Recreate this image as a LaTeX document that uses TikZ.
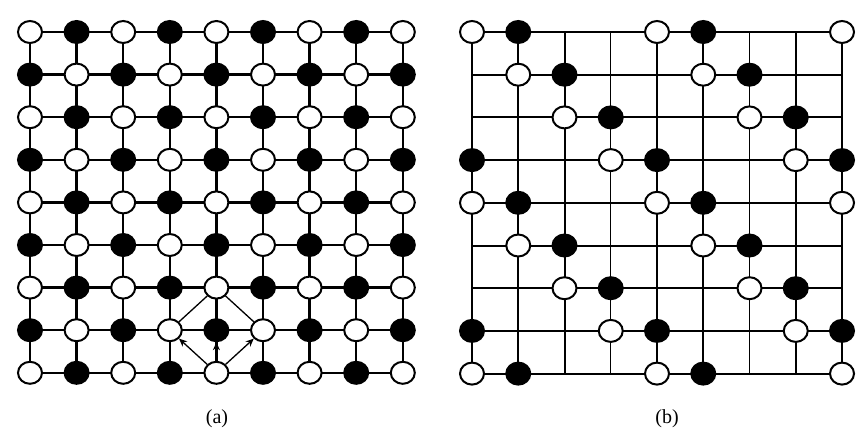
\documentclass[tikz,border=0pt]{standalone}
\usepackage{fontspec}
\setmainfont{Liberation Serif}
\usetikzlibrary{arrows.meta,positioning,calc,shapes.geometric}
\pgfdeclarelayer{bg}
\pgfsetlayers{bg,main}

\begin{document}
\begin{tikzpicture}[
  x=1pt, y=-1pt,
  site/.style={ellipse, draw=black, line width=2pt, minimum width=24pt, minimum height=22pt, inner sep=0pt},
  wsite/.style={site, fill=white},
  bsite/.style={site, fill=black},
  bond/.style={line width=2.4pt},
  heavy/.style={line width=2pt},
  light/.style={line width=1pt},
  link/.style={line width=1.3pt},
  hop/.style={-{Stealth[length=8pt,width=7pt]}, line width=1.3pt},
  caption/.style={font=\fontsize{20}{22}\selectfont}
]
\useasboundingbox (0,0) rectangle (858,436);

% (a) checkerboard lattice
\foreach \r in {0,...,8} {
  \foreach \c in {0,...,8} {
    \pgfmathtruncatemacro\odd{mod(\r+\c,2)}
    \ifnum\odd=0
      \node[wsite] (a-\r-\c) at ({30+46.6*\c},{32+42.6*\r}) {};
    \else
      \node[bsite] (a-\r-\c) at ({30+46.6*\c},{32+42.6*\r}) {};
    \fi
  }
}
\begin{pgfonlayer}{bg}
  \foreach \i in {0,...,8} {
    \draw[bond] (a-\i-0.center) -- (a-\i-8.center);
    \draw[bond] (a-0-\i.center) -- (a-8-\i.center);
  }
\end{pgfonlayer}

% hopping diamond
\draw[link] (a-6-4) -- (a-7-3);
\draw[link] (a-6-4) -- (a-7-5);
\draw[hop] (a-8-4) -- (a-7-3);
\draw[hop] (a-8-4) -- (a-7-5);
\draw[hop] (a-8-4) -- (a-7-4);

% (b) diluted lattice
\foreach \r in {0,...,8} {
  \foreach \c in {0,...,8} {
    \coordinate (g-\r-\c) at ({472+46.25*\c},{32+42.7*\r});
  }
}
\foreach \i in {0,...,8} {
  \draw[heavy] (g-\i-0) -- (g-\i-8);
}
\foreach \i in {0,1,2,4,5,7,8} {
  \draw[heavy] (g-0-\i) -- (g-8-\i);
}
\foreach \i in {3,6} {
  \draw[light] (g-0-\i) -- (g-8-\i);
}
\foreach \r in {0,...,8} {
  \foreach \c in {0,...,8} {
    \pgfmathtruncatemacro\phase{mod(\c-\r+8,4)}
    \ifnum\phase=0
      \node[wsite] (b-\r-\c) at (g-\r-\c) {};
    \fi
    \ifnum\phase=1
      \node[bsite] (b-\r-\c) at (g-\r-\c) {};
    \fi
  }
}

\node[caption] (cap-a) at (217,419) {(a)};
\node[caption] (cap-b) at (667,419) {(b)};
\end{tikzpicture}
\end{document}
